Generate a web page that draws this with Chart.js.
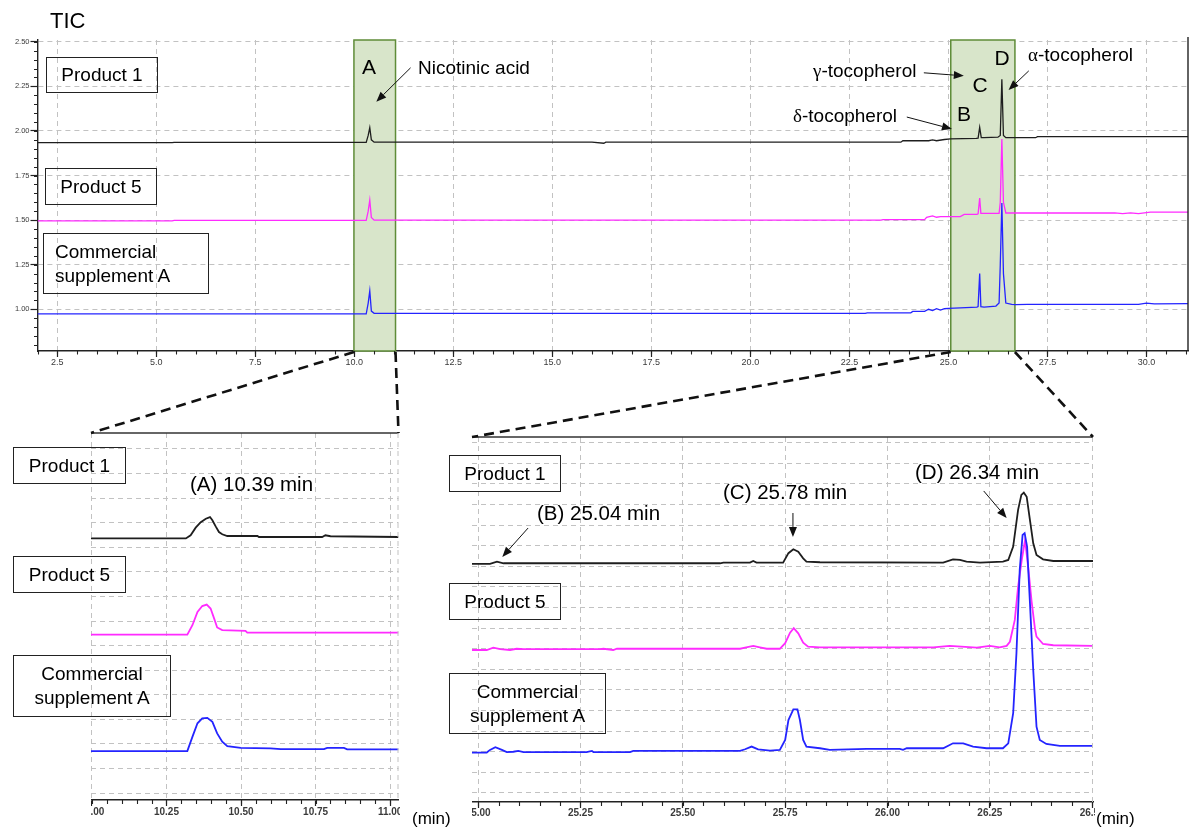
<!DOCTYPE html>
<html>
<head>
<meta charset="utf-8">
<script src="https://cdn.jsdelivr.net/npm/chart.js@4.4.1/dist/chart.umd.min.js"></script>
<style>
  body { margin: 0; background: #fff; }
  #page { position: relative; width: 1192px; height: 830px; overflow: hidden; font-family: Arial, 'Liberation Sans', sans-serif; color: #000; }
  .pane { position: absolute; }
  .pane canvas { display: block; }
  #overlay { position: absolute; left: 0; top: 0; pointer-events: none; }
  .t { position: absolute; white-space: nowrap; line-height: 1; transform: translateY(-50%); }
  .t.c { transform: translate(-50%, -50%); }
  .box { position: absolute; box-sizing: border-box; border: 1.3px solid #222; display: flex; align-items: center; justify-content: center; font-size: 19px; text-align: center; line-height: 24px; }
  .greek { font-family: 'Liberation Serif', 'DejaVu Serif', serif; }
</style>
</head>
<body>
<div id="page">
  <div class="pane" id="topPane" style="left:0;top:30px;"><canvas id="tic" width="1192" height="345"></canvas></div>
  <div class="pane" id="leftPane" style="left:91px;top:425px;"><canvas id="zoomA" width="309" height="400"></canvas></div>
  <div class="pane" id="rightPane" style="left:472px;top:425px;"><canvas id="zoomBD" width="623" height="400"></canvas></div>
  <canvas id="overlay" width="1192" height="830"></canvas>

  <div class="t" style="left:50px;top:21px;font-size:22px;">TIC</div>

  <div class="box" style="left:46px;top:57px;width:112px;height:36px;">Product 1</div>
  <div class="box" style="left:45px;top:168px;width:112px;height:37px;">Product 5</div>
  <div class="box" style="left:43px;top:233px;width:166px;height:61px;justify-content:flex-start;text-align:left;padding-left:11px;">Commercial<br>supplement A</div>

  <div class="t c" style="left:369px;top:66px;font-size:21px;">A</div>
  <div class="t" style="left:418px;top:67px;font-size:19px;">Nicotinic acid</div>
  <div class="t c" style="left:1002px;top:57px;font-size:21px;">D</div>
  <div class="t" style="left:1028px;top:54px;font-size:19px;"><span class="greek">α</span>-tocopherol</div>
  <div class="t" style="left:813px;top:70px;font-size:19px;"><span class="greek">γ</span>-tocopherol</div>
  <div class="t c" style="left:980px;top:84px;font-size:21px;">C</div>
  <div class="t" style="left:793px;top:115px;font-size:19px;"><span class="greek">δ</span>-tocopherol</div>
  <div class="t c" style="left:964px;top:113px;font-size:21px;">B</div>

  <div class="box" style="left:13px;top:447px;width:113px;height:37px;">Product 1</div>
  <div class="box" style="left:13px;top:556px;width:113px;height:37px;">Product 5</div>
  <div class="box" style="left:13px;top:655px;width:158px;height:62px;">Commercial<br>supplement A</div>
  <div class="t" style="left:190px;top:484px;font-size:20.5px;">(A) 10.39 min</div>
  <div class="t" style="left:412px;top:818px;font-size:17px;">(min)</div>

  <div class="box" style="left:449px;top:455px;width:112px;height:37px;">Product 1</div>
  <div class="box" style="left:449px;top:583px;width:112px;height:37px;">Product 5</div>
  <div class="box" style="left:449px;top:673px;width:157px;height:61px;">Commercial<br>supplement A</div>
  <div class="t" style="left:537px;top:513px;font-size:20.5px;">(B) 25.04 min</div>
  <div class="t" style="left:723px;top:492px;font-size:20.5px;">(C) 25.78 min</div>
  <div class="t" style="left:915px;top:472px;font-size:20.5px;">(D) 26.34 min</div>
  <div class="t" style="left:1096px;top:818px;font-size:17px;">(min)</div>
</div>

<script>
// ---- whole run (TIC), retention time in min ----
const topP1Time = [2.0, 5.4, 5.45, 10.3, 10.35, 10.39, 10.43, 10.5, 16.0, 16.3, 16.35, 23.8, 23.85, 24.5, 24.6, 24.7, 24.9, 25.05, 25.7, 25.75, 25.79, 25.83, 25.9, 26.25, 26.31, 26.35, 26.39, 26.45, 27.2, 27.25, 31.05];
const topP1Signal = [1.934, 1.934, 1.936, 1.936, 1.975, 2.018, 1.95, 1.937, 1.937, 1.931, 1.937, 1.937, 1.945, 1.945, 1.95, 1.945, 1.952, 1.955, 1.958, 1.96, 2.02, 1.962, 1.962, 1.965, 1.975, 2.29, 1.975, 1.962, 1.962, 1.968, 1.968];

const topP5Time = [2.0, 5.4, 5.45, 10.3, 10.35, 10.39, 10.43, 10.5, 23.3, 23.35, 24.4, 24.45, 24.6, 24.7, 24.8, 25.3, 25.4, 25.72, 25.75, 25.79, 25.82, 25.9, 26.28, 26.31, 26.35, 26.39, 26.45, 26.6, 29.2, 29.4, 29.6, 29.8, 30.1, 31.05];
const topP5Signal = [1.496, 1.496, 1.499, 1.499, 1.55, 1.612, 1.515, 1.5, 1.5, 1.503, 1.503, 1.516, 1.524, 1.516, 1.52, 1.52, 1.532, 1.532, 1.535, 1.623, 1.538, 1.538, 1.538, 1.6, 1.955, 1.6, 1.54, 1.54, 1.54, 1.536, 1.54, 1.536, 1.545, 1.545];

const topCaTime = [2.0, 10.3, 10.35, 10.39, 10.43, 10.5, 10.7, 22.9, 22.95, 24.05, 24.1, 24.4, 24.5, 24.6, 24.7, 24.8, 24.9, 25.0, 25.3, 25.72, 25.75, 25.79, 25.82, 25.9, 26.2, 26.28, 26.31, 26.35, 26.39, 26.45, 26.6, 26.7, 27.0, 29.8, 30.0, 30.2, 31.05];
const topCaSignal = [0.974, 0.974, 1.035, 1.104, 0.99, 0.977, 0.977, 0.977, 0.98, 0.98, 0.988, 0.988, 1.0, 0.993, 1.003, 0.995, 1.003, 1.005, 1.008, 1.012, 1.015, 1.2, 1.015, 1.012, 1.018, 1.035, 1.25, 1.596, 1.2, 1.035, 1.028, 1.026, 1.028, 1.028, 1.034, 1.03, 1.032];

// ---- zoom on peak A (10.0 - 11.0 min), arbitrary offset units ----
const aP1Time = [9.997, 10.315, 10.331, 10.348, 10.365, 10.382, 10.396, 10.404, 10.415, 10.426, 10.437, 10.454, 10.555, 10.56, 10.772, 10.783, 10.8, 11.028];
const aP1Signal = [10.36, 10.36, 10.49, 10.8, 11.02, 11.16, 11.23, 11.1, 10.85, 10.62, 10.53, 10.46, 10.46, 10.42, 10.42, 10.49, 10.45, 10.42];
const aP5Time = [9.997, 10.32, 10.337, 10.354, 10.37, 10.385, 10.398, 10.41, 10.42, 10.437, 10.515, 10.521, 11.028];
const aP5Signal = [6.45, 6.45, 6.83, 7.37, 7.61, 7.67, 7.51, 7.1, 6.74, 6.63, 6.6, 6.53, 6.53];
const aCaTime = [9.997, 10.32, 10.337, 10.354, 10.37, 10.387, 10.404, 10.42, 10.437, 10.454, 10.499, 10.599, 10.633, 10.778, 10.789, 10.845, 10.856, 11.028];
const aCaSignal = [1.71, 1.71, 2.29, 2.84, 3.04, 3.06, 2.9, 2.43, 2.09, 1.91, 1.84, 1.82, 1.79, 1.79, 1.84, 1.84, 1.78, 1.78];

// ---- zoom on peaks B-D (25.0 - 26.5 min) ----
const bdP1Time = [24.985, 25.029, 25.046, 25.062, 25.591, 25.599, 25.664, 25.672, 25.68, 25.745, 25.758, 25.77, 25.782, 25.794, 25.802, 25.835, 26.136, 26.16, 26.177, 26.193, 26.226, 26.282, 26.295, 26.307, 26.319, 26.327, 26.333, 26.34, 26.348, 26.356, 26.364, 26.38, 26.405, 26.502];
const bdP1Signal = [11.12, 11.12, 11.23, 11.15, 11.15, 11.18, 11.18, 11.26, 11.18, 11.18, 11.64, 11.83, 11.71, 11.39, 11.23, 11.2, 11.18, 11.34, 11.31, 11.23, 11.18, 11.23, 11.31, 11.96, 13.74, 14.47, 14.58, 14.38, 13.25, 12.12, 11.55, 11.34, 11.26, 11.26];
const bdP5Time = [24.985, 25.021, 25.037, 25.054, 25.078, 25.094, 25.111, 25.298, 25.306, 25.33, 25.339, 25.64, 25.652, 25.672, 25.688, 25.705, 25.737, 25.75, 25.762, 25.771, 25.782, 25.794, 25.806, 25.835, 26.112, 26.152, 26.218, 26.25, 26.274, 26.291, 26.299, 26.311, 26.319, 26.328, 26.336, 26.344, 26.352, 26.36, 26.364, 26.38, 26.405, 26.502];
const bdP5Signal = [6.94, 6.94, 7.05, 6.98, 6.94, 7.0, 6.98, 6.98, 7.0, 6.94, 7.0, 7.0, 7.05, 7.14, 7.07, 7.0, 7.0, 7.27, 7.78, 8.0, 7.75, 7.3, 7.1, 7.07, 7.07, 7.14, 7.05, 7.14, 7.07, 7.14, 7.34, 8.4, 10.01, 11.31, 12.28, 10.9, 9.3, 8.0, 7.59, 7.23, 7.17, 7.14];
const bdCaTime = [24.985, 25.021, 25.029, 25.042, 25.058, 25.07, 25.086, 25.098, 25.111, 25.265, 25.278, 25.282, 25.371, 25.379, 25.64, 25.652, 25.668, 25.684, 25.713, 25.737, 25.75, 25.758, 25.77, 25.78, 25.786, 25.794, 25.802, 25.835, 25.859, 25.949, 26.03, 26.038, 26.047, 26.136, 26.16, 26.185, 26.209, 26.242, 26.282, 26.295, 26.307, 26.315, 26.323, 26.33, 26.335, 26.341, 26.348, 26.356, 26.364, 26.372, 26.388, 26.421, 26.502];
const bdCaSignal = [1.96, 1.96, 2.09, 2.22, 2.09, 1.98, 2.0, 2.04, 1.98, 1.98, 2.04, 1.98, 1.98, 2.04, 2.04, 2.12, 2.25, 2.12, 2.05, 2.09, 2.57, 3.54, 4.06, 4.06, 3.54, 2.57, 2.25, 2.17, 2.09, 2.14, 2.14, 2.09, 2.17, 2.17, 2.41, 2.41, 2.25, 2.17, 2.17, 2.41, 3.87, 6.78, 10.83, 12.52, 12.61, 11.96, 9.21, 5.97, 3.22, 2.57, 2.38, 2.28, 2.28];

// ---- axes ----
const topXTicks = [2.5, 5.0, 7.5, 10.0, 12.5, 15.0, 17.5, 20.0, 22.5, 25.0, 27.5, 30.0];
const topYTicks = [1.0, 1.25, 1.5, 1.75, 2.0, 2.25, 2.5];
const aXTicks = [10.0, 10.25, 10.5, 10.75, 11.0];
const bdXTicks = [25.0, 25.25, 25.5, 25.75, 26.0, 26.25, 26.5];
const aYGrid = [0, 1, 2, 3, 4, 5, 6, 7, 8, 9, 10, 11, 12, 13, 14];
const bdYGrid = [0, 1, 2, 3, 4, 5, 6, 7, 8, 9, 10, 11, 12, 13, 14, 15, 16, 17];

// zoomed windows marked on the TIC
const zoomBands = [[9.99, 11.04], [25.06, 26.68]];

const COLORS = { p1: '#1e1e1e', p5: '#ff2bff', ca: '#2424ff' };
const GRID = '#c2c2c2';
const FONT = "Arial, 'Liberation Sans', sans-serif";
const TOP_POS = { left: 0, top: 30 };
const A_POS = { left: 91, top: 425 };
const BD_POS = { left: 472, top: 425 };

function line(ts, vs, color, w) {
  return {
    data: ts.map((t, i) => ({ x: t, y: vs[i] })),
    borderColor: color, borderWidth: w, showLine: true,
    pointRadius: 0, pointHoverRadius: 0, fill: false, tension: 0,
  };
}

function xAxis(min, max, ticks, digits, font, pad, h) {
  return {
    type: 'linear', min, max,
    afterBuildTicks: s => { s.ticks = ticks.map(v => ({ value: v })); },
    afterFit: s => { s.height = h; s.paddingLeft = 0; s.paddingRight = 0; },
    ticks: { callback: v => Number(v).toFixed(digits), font: { family: FONT, ...font }, color: '#3a3a3a', padding: pad, maxRotation: 0, autoSkip: false },
    grid: { color: GRID, tickColor: '#222', tickLength: 6, tickWidth: 1.2, lineWidth: 1 },
    border: { color: '#222', width: 1.4, dash: [5, 4] },
  };
}

function hiddenY(min, max, grid) {
  return {
    type: 'linear', min, max,
    afterBuildTicks: s => { s.ticks = grid.map(v => ({ value: v })); },
    afterFit: s => { s.width = 0; },
    ticks: { display: false },
    grid: { color: GRID, drawTicks: false, lineWidth: 1 },
    border: { display: false, dash: [5, 4] },
  };
}

function drawArrow(ctx, x0, y0, x1, y1) {
  const ang = Math.atan2(y1 - y0, x1 - x0);
  const len = 10, half = 4;
  const bx = x1 - len * Math.cos(ang), by = y1 - len * Math.sin(ang);
  ctx.beginPath();
  ctx.moveTo(x0, y0); ctx.lineTo(bx, by);
  ctx.strokeStyle = '#111'; ctx.lineWidth = 1; ctx.stroke();
  ctx.beginPath();
  ctx.moveTo(x1, y1);
  ctx.lineTo(bx + half * Math.sin(ang), by - half * Math.cos(ang));
  ctx.lineTo(bx - half * Math.sin(ang), by + half * Math.cos(ang));
  ctx.closePath(); ctx.fillStyle = '#111'; ctx.fill();
}

function makeDeco(cfg) {
  return {
    id: 'deco',
    beforeDatasetsDraw(chart) {
      const { ctx, chartArea: a, scales: { x } } = chart;
      (cfg.bands || []).forEach(([t0, t1]) => {
        const x0 = x.getPixelForValue(t0), x1 = x.getPixelForValue(t1);
        ctx.save();
        ctx.fillStyle = 'rgb(216,229,202)';
        ctx.fillRect(x0, a.top, x1 - x0, a.bottom - a.top);
        ctx.strokeStyle = '#5f8c38'; ctx.lineWidth = 1.5;
        ctx.strokeRect(x0, a.top, x1 - x0, a.bottom - a.top);
        ctx.restore();
      });
    },
    afterDraw(chart) {
      const { ctx, chartArea: a, scales: { x, y } } = chart;
      ctx.save();
      ctx.strokeStyle = '#222'; ctx.lineWidth = 1.1;
      if (cfg.xMinor) {
        const [s, e, st] = cfg.xMinor;
        const n = Math.round((e - s) / st);
        ctx.beginPath();
        for (let i = 0; i <= n; i++) {
          const px = Math.round(x.getPixelForValue(s + i * st)) + 0.5;
          if (px < a.left - 1 || px > a.right + 1) continue;
          ctx.moveTo(px, a.bottom); ctx.lineTo(px, a.bottom + cfg.minorLen);
        }
        ctx.stroke();
      }
      if (cfg.yMinor) {
        const [s, e, st] = cfg.yMinor;
        const n = Math.round((e - s) / st);
        ctx.beginPath();
        for (let i = 0; i <= n; i++) {
          const py = Math.round(y.getPixelForValue(s + i * st)) + 0.5;
          if (py < a.top - 1 || py > a.bottom + 1) continue;
          ctx.moveTo(a.left, py); ctx.lineTo(a.left - cfg.minorLen, py);
        }
        ctx.stroke();
      }
      if (cfg.rightBorder) {
        ctx.lineWidth = 1.4;
        ctx.beginPath(); ctx.moveTo(a.right, a.top - 3); ctx.lineTo(a.right, a.bottom); ctx.stroke();
      }
      if (cfg.topBorder) {
        ctx.lineWidth = 1.6; ctx.strokeStyle = '#333';
        ctx.beginPath(); ctx.moveTo(a.left, a.top); ctx.lineTo(a.right, a.top); ctx.stroke();
      }
      if (cfg.rightDash) {
        ctx.lineWidth = 1; ctx.strokeStyle = GRID; ctx.setLineDash([5, 4]);
        ctx.beginPath(); ctx.moveTo(a.right - 0.5, a.top); ctx.lineTo(a.right - 0.5, a.bottom); ctx.stroke();
        ctx.setLineDash([]);
      }
      (cfg.arrows || []).forEach(ar => {
        drawArrow(ctx, x.getPixelForValue(ar.from[0]), y.getPixelForValue(ar.from[1]),
          x.getPixelForValue(ar.to[0]), y.getPixelForValue(ar.to[1]));
      });
      ctx.restore();
    },
  };
}

const baseOpts = {
  responsive: false, animation: false, events: [],
  plugins: { legend: { display: false }, tooltip: { enabled: false } },
};

const topChart = new Chart(document.getElementById('tic'), {
  type: 'scatter',
  data: { datasets: [
    line(topP1Time, topP1Signal, COLORS.p1, 1.3),
    line(topCaTime, topCaSignal, COLORS.ca, 1.3),
    line(topP5Time, topP5Signal, COLORS.p5, 1.3),
  ] },
  options: {
    ...baseOpts,
    layout: { padding: { top: 10, right: 4, left: 0, bottom: 0 } },
    scales: {
      x: xAxis(2.0, 31.05, topXTicks, 1, { size: 9 }, 0, 24),
      y: {
        type: 'linear', min: 0.766, max: 2.51,
        afterBuildTicks: s => { s.ticks = topYTicks.map(v => ({ value: v })); },
        afterFit: s => { s.width = 37.5; },
        ticks: { callback: v => Number(v).toFixed(2), font: { size: 7.5, family: FONT }, color: '#3a3a3a', padding: 1 },
        grid: { color: GRID, tickColor: '#222', tickLength: 7, tickWidth: 1.2, lineWidth: 1 },
        border: { color: '#222', width: 1.4, dash: [5, 4] },
      },
    },
  },
  plugins: [makeDeco({
    bands: zoomBands,
    xMinor: [2.0, 31.0, 0.5], yMinor: [0.8, 2.5, 0.05], minorLen: 3.5,
    rightBorder: true,
    arrows: [
      { from: [11.42, 2.354], to: [10.555, 2.164] },
      { from: [24.38, 2.326], to: [25.39, 2.309] },
      { from: [23.95, 2.078], to: [25.09, 2.011] },
      { from: [27.03, 2.337], to: [26.52, 2.229] },
    ],
  })],
});

const zoomA = new Chart(document.getElementById('zoomA'), {
  type: 'scatter',
  data: { datasets: [
    line(aP1Time, aP1Signal, COLORS.p1, 1.8),
    line(aCaTime, aCaSignal, COLORS.ca, 1.8),
    line(aP5Time, aP5Signal, COLORS.p5, 1.8),
  ] },
  options: {
    ...baseOpts,
    layout: { padding: { top: 8, right: 1.5, left: 0, bottom: 0 } },
    scales: {
      x: xAxis(9.997, 11.028, aXTicks, 2, { size: 10, weight: 'bold' }, 0, 25),
      y: hiddenY(-0.28, 14.65, aYGrid),
    },
  },
  plugins: [makeDeco({ xMinor: [10.0, 11.0, 0.05], minorLen: 4, topBorder: true, rightDash: true })],
});

const zoomBD = new Chart(document.getElementById('zoomBD'), {
  type: 'scatter',
  data: { datasets: [
    line(bdP1Time, bdP1Signal, COLORS.p1, 1.8),
    line(bdCaTime, bdCaSignal, COLORS.ca, 1.8),
    line(bdP5Time, bdP5Signal, COLORS.p5, 1.8),
  ] },
  options: {
    ...baseOpts,
    layout: { padding: { top: 12, right: 2, left: 0, bottom: 0 } },
    scales: {
      x: xAxis(24.985, 26.502, bdXTicks, 2, { size: 10, weight: 'bold' }, -1, 23),
      y: hiddenY(-0.44, 17.28, bdYGrid),
    },
  },
  plugins: [makeDeco({
    xMinor: [25.0, 26.5, 0.05], minorLen: 4, topBorder: true, rightDash: true,
    arrows: [
      { from: [25.122, 12.86], to: [25.059, 11.46] },
      { from: [25.769, 13.59], to: [25.769, 12.43] },
      { from: [26.235, 14.66], to: [26.291, 13.35] },
    ],
  })],
});

// dashed connectors from the marked windows to the zoomed panels
(function drawConnectors() {
  const ctx = document.getElementById('overlay').getContext('2d');
  const tx = topChart.scales.x;
  const yTop = topChart.chartArea.bottom + TOP_POS.top;
  const links = [
    [zoomBands[0][0], zoomA, A_POS, 'left'],
    [zoomBands[0][1], zoomA, A_POS, 'right'],
    [zoomBands[1][0], zoomBD, BD_POS, 'left'],
    [zoomBands[1][1], zoomBD, BD_POS, 'right'],
  ];
  ctx.strokeStyle = '#111'; ctx.lineWidth = 2.6; ctx.setLineDash([10, 6]);
  links.forEach(([t, ch, pos, side]) => {
    const x0 = tx.getPixelForValue(t) + TOP_POS.left;
    const x1 = ch.chartArea[side] + pos.left;
    const y1 = ch.chartArea.top + pos.top;
    ctx.beginPath(); ctx.moveTo(x0, yTop + 1); ctx.lineTo(x1, y1); ctx.stroke();
  });
})();
</script>
</body>
</html>
